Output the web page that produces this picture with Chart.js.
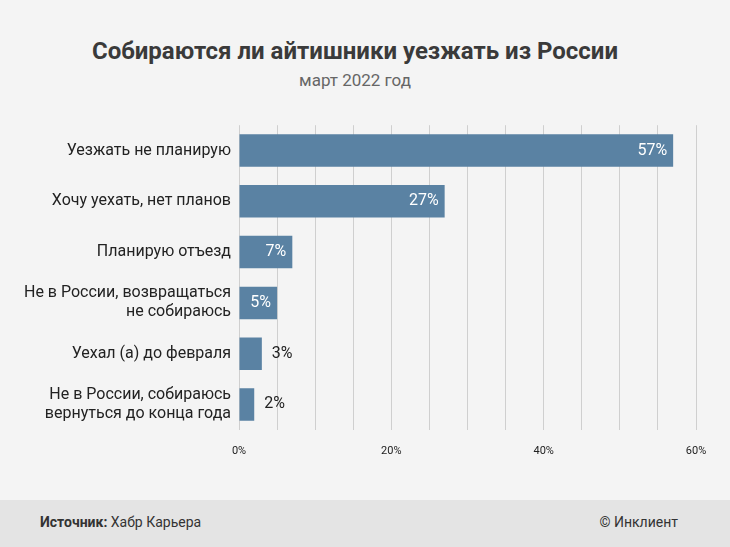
<!DOCTYPE html>
<html><head><meta charset="utf-8">
<script src="https://cdn.jsdelivr.net/npm/chart.js@4"></script>
<style>
body{margin:0;width:730px;height:547px;background:#f4f4f4;font-family:Roboto,sans-serif;position:relative;overflow:hidden}
#t{position:absolute;top:37px;left:0;width:710px;text-align:center;font-size:24px;font-weight:bold;color:#3a3a3a}
#s{position:absolute;top:70px;left:0;width:710px;text-align:center;font-size:17px;color:#666}
#c{position:absolute;top:106px;left:0;width:730px;height:367px}
#f{position:absolute;left:0;top:500px;width:730px;height:47px;background:#e4e4e4;font-size:14px;color:#333}
#f .l{position:absolute;left:40px;top:14px}
#f .r{position:absolute;right:52px;top:14px}
</style></head><body>
<div id="t">Собираются ли айтишники уезжать из России</div>
<div id="s">март 2022 год</div>
<div id="c"><canvas id="ch"></canvas></div>
<div id="f"><span class="l"><b>Источник:</b> Хабр Карьера</span><span class="r">© Инклиент</span></div>
<script>
var labels = ["Уезжать не планирую", "Хочу уехать, нет планов", "Планирую отъезд",
  ["Не в России, возвращаться", "не собираюсь"], "Уехал (а) до февраля",
  ["Не в России, собираюсь", "вернуться до конца года"]];
var values = [57, 27, 7, 5, 3, 2];

var valueLabels = {
  id: "valueLabels",
  afterDatasetsDraw: function (chart) {
    var ctx = chart.ctx;
    var meta = chart.getDatasetMeta(0);
    ctx.save();
    ctx.font = "16px Roboto";
    ctx.textBaseline = "middle";
    meta.data.forEach(function (bar, i) {
      var v = values[i];
      if (v >= 5) { ctx.fillStyle = "#fff"; ctx.textAlign = "right"; ctx.fillText(v + "%", bar.x - 6, bar.y); }
      else { ctx.fillStyle = "#222"; ctx.textAlign = "left"; ctx.fillText(v + "%", bar.x + 10, bar.y); }
    });
    ctx.restore();
  }
};

new Chart(document.getElementById("ch"), {
  type: "bar",
  data: { labels: labels, datasets: [{ data: values, backgroundColor: "#5a82a3", barPercentage: 0.64, categoryPercentage: 1 }] },
  options: {
    indexAxis: "y", responsive: true, maintainAspectRatio: false, animation: false,
    layout: { padding: { right: 34, top: 0 } },
    plugins: { legend: { display: false }, tooltip: { enabled: false } },
    scales: {
      x: {
        min: 0, max: 60,
        grid: { color: "#cfcfcf", drawTicks: false },
        border: { display: false },
        ticks: { stepSize: 5, padding: 15, color: "#222", font: { size: 11, family: "Roboto" },
          callback: function (v) { return v % 20 === 0 ? v + "%" : ""; } }
      },
      y: {
        afterFit: function (s) { s.width = 239; },
        grid: { display: false }, border: { display: false },
        ticks: { color: "#222", font: { size: 16, family: "Roboto" }, padding: 0 }
      }
    }
  },
  plugins: [valueLabels]
});
</script>
</body></html>
